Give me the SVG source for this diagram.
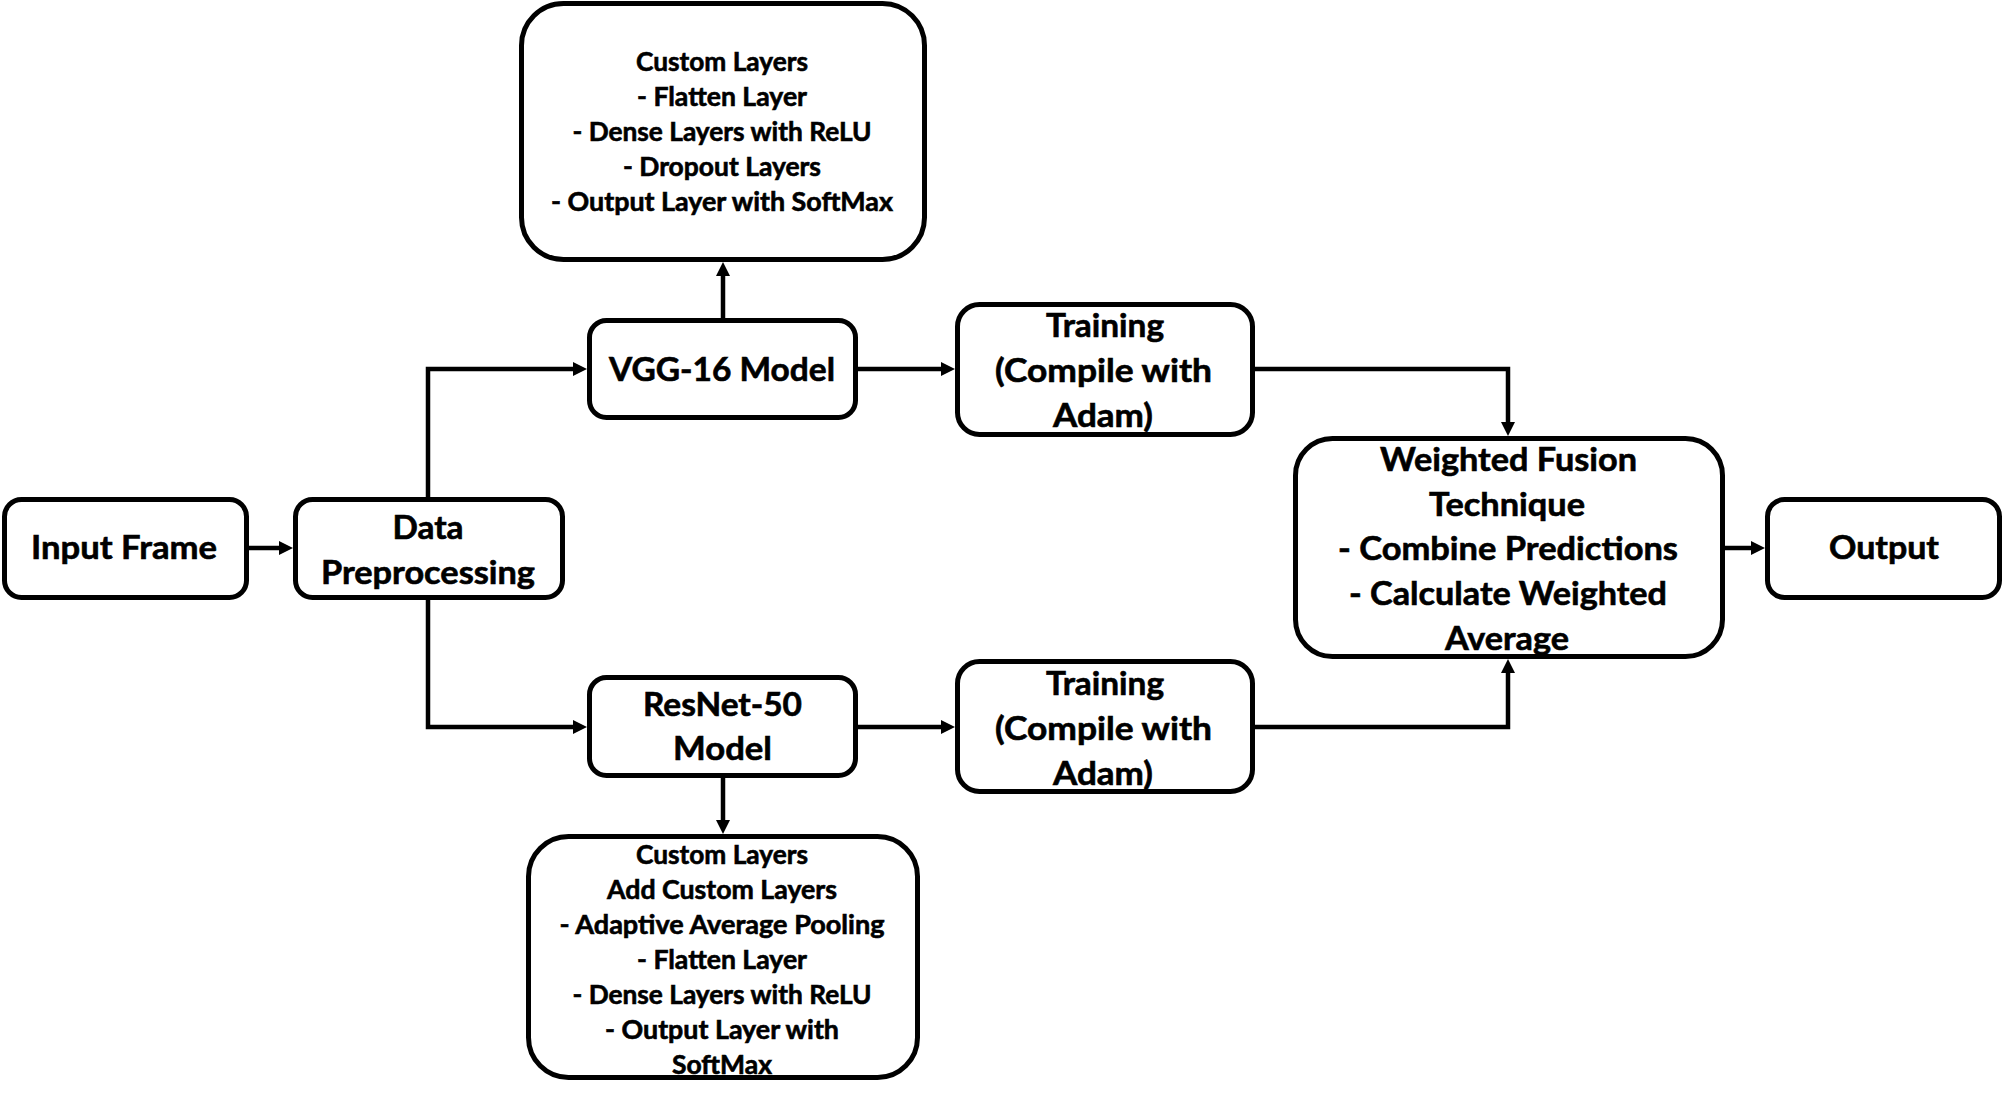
<svg xmlns="http://www.w3.org/2000/svg" width="2005" height="1098" viewBox="0 0 2005 1098">
<style>
.box{fill:#fff;stroke:#000;stroke-width:5}
.c{fill:none;stroke:#000;stroke-width:4.5}
text{font-family:Lato,"Open Sans","Liberation Sans",sans-serif;font-weight:bold;fill:#000;stroke:#000;stroke-width:0.6;text-anchor:middle}
.lg{font-size:32px}
.sm{font-size:26px}
</style>
<defs>
<marker id="ah" markerUnits="userSpaceOnUse" markerWidth="15" markerHeight="15" refX="4" refY="7" orient="auto">
<path d="M0,0 L14,7 L0,14 Z" fill="#000"/>
</marker>
</defs>
<rect width="2005" height="1098" fill="#fff"/>
<g id="connectors">
<path class="c" d="M249,548 H283" marker-end="url(#ah)"/>
<path class="c" d="M428,497 V369 H577" marker-end="url(#ah)"/>
<path class="c" d="M428,600 V727 H577" marker-end="url(#ah)"/>
<path class="c" d="M723,318 V272" marker-end="url(#ah)"/>
<path class="c" d="M723,778 V824" marker-end="url(#ah)"/>
<path class="c" d="M858,369 H945" marker-end="url(#ah)"/>
<path class="c" d="M858,727 H945" marker-end="url(#ah)"/>
<path class="c" d="M1255,369 H1508 V426" marker-end="url(#ah)"/>
<path class="c" d="M1255,727 H1508 V669" marker-end="url(#ah)"/>
<path class="c" d="M1725,548 H1755" marker-end="url(#ah)"/>
</g>
<g id="input-frame">
<rect class="box" x="4.5" y="499.5" width="242" height="98" rx="17"/>
<text class="lg" x="124" y="559" textLength="186" lengthAdjust="spacingAndGlyphs">Input Frame</text>
</g>
<g id="data-preprocessing">
<rect class="box" x="295.5" y="499.5" width="267" height="98" rx="17"/>
<text class="lg" x="428" y="539" textLength="71" lengthAdjust="spacingAndGlyphs">Data</text>
<text class="lg" x="428" y="584" textLength="214" lengthAdjust="spacingAndGlyphs">Preprocessing</text>
</g>
<g id="vgg16">
<rect class="box" x="589.5" y="320.5" width="266" height="97" rx="17"/>
<text class="lg" x="722" y="380.5" textLength="226" lengthAdjust="spacingAndGlyphs">VGG-16 Model</text>
</g>
<g id="resnet50">
<rect class="box" x="589.5" y="677.5" width="266" height="98" rx="17"/>
<text class="lg" x="722.5" y="715.5" textLength="159" lengthAdjust="spacingAndGlyphs">ResNet-50</text>
<text class="lg" x="722.5" y="760" textLength="99" lengthAdjust="spacingAndGlyphs">Model</text>
</g>
<g id="custom-top">
<rect class="box" x="521.5" y="3.5" width="403" height="256" rx="42"/>
<text class="sm" x="722" y="71" textLength="172" lengthAdjust="spacingAndGlyphs">Custom Layers</text>
<text class="sm" x="722" y="106" textLength="170" lengthAdjust="spacingAndGlyphs">- Flatten Layer</text>
<text class="sm" x="722" y="141" textLength="299" lengthAdjust="spacingAndGlyphs">- Dense Layers with ReLU</text>
<text class="sm" x="722" y="176" textLength="198" lengthAdjust="spacingAndGlyphs">- Dropout Layers</text>
<text class="sm" x="722" y="211" textLength="342" lengthAdjust="spacingAndGlyphs">- Output Layer with SoftMax</text>
</g>
<g id="custom-bottom">
<rect class="box" x="528.5" y="836.5" width="389" height="241" rx="40"/>
<text class="sm" x="722" y="864" textLength="172" lengthAdjust="spacingAndGlyphs">Custom Layers</text>
<text class="sm" x="722" y="899" textLength="230" lengthAdjust="spacingAndGlyphs">Add Custom Layers</text>
<text class="sm" x="722" y="934" textLength="325" lengthAdjust="spacingAndGlyphs">- Adaptive Average Pooling</text>
<text class="sm" x="722" y="969" textLength="170" lengthAdjust="spacingAndGlyphs">- Flatten Layer</text>
<text class="sm" x="722" y="1004" textLength="299" lengthAdjust="spacingAndGlyphs">- Dense Layers with ReLU</text>
<text class="sm" x="722" y="1039" textLength="234" lengthAdjust="spacingAndGlyphs">- Output Layer with</text>
<text class="sm" x="722" y="1074" textLength="100" lengthAdjust="spacingAndGlyphs">SoftMax</text>
</g>
<g id="training-top">
<rect class="box" x="957.5" y="304.5" width="295" height="130" rx="22"/>
<text class="lg" x="1105" y="337" textLength="118" lengthAdjust="spacingAndGlyphs">Training</text>
<text class="lg" x="1103.5" y="382" textLength="217" lengthAdjust="spacingAndGlyphs">(Compile with</text>
<text class="lg" x="1103" y="427" textLength="100" lengthAdjust="spacingAndGlyphs">Adam)</text>
</g>
<g id="training-bottom">
<rect class="box" x="957.5" y="661.5" width="295" height="130" rx="22"/>
<text class="lg" x="1105" y="694.5" textLength="118" lengthAdjust="spacingAndGlyphs">Training</text>
<text class="lg" x="1103.5" y="739.5" textLength="217" lengthAdjust="spacingAndGlyphs">(Compile with</text>
<text class="lg" x="1103" y="784.5" textLength="100" lengthAdjust="spacingAndGlyphs">Adam)</text>
</g>
<g id="weighted-fusion">
<rect class="box" x="1295.5" y="438.5" width="427" height="218" rx="37"/>
<text class="lg" x="1508.5" y="470.5" textLength="257" lengthAdjust="spacingAndGlyphs">Weighted Fusion</text>
<text class="lg" x="1507" y="515.5" textLength="156" lengthAdjust="spacingAndGlyphs">Technique</text>
<text class="lg" x="1508" y="560" textLength="340" lengthAdjust="spacingAndGlyphs">- Combine Predictions</text>
<text class="lg" x="1508" y="605" textLength="318" lengthAdjust="spacingAndGlyphs">- Calculate Weighted</text>
<text class="lg" x="1507" y="650" textLength="124" lengthAdjust="spacingAndGlyphs">Average</text>
</g>
<g id="output">
<rect class="box" x="1767.5" y="499.5" width="232" height="98" rx="17"/>
<text class="lg" x="1884" y="559" textLength="110" lengthAdjust="spacingAndGlyphs">Output</text>
</g>
</svg>
